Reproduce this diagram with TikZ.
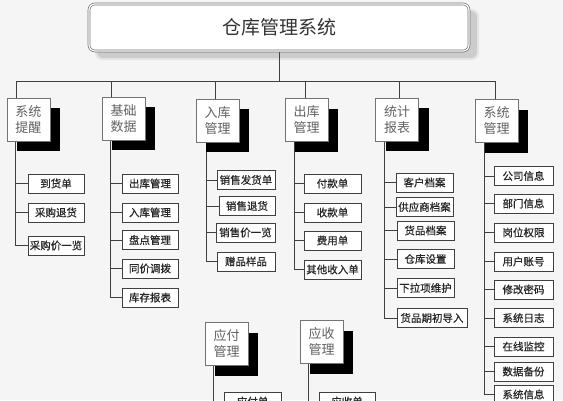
\documentclass[tikz,border=0pt]{standalone}
\usepackage{fontspec}
\newfontfamily\cjk{Noto Sans CJK SC}
\newfontfamily\cjkb[FakeBold=0.6]{Noto Sans CJK SC}
\usetikzlibrary{shadows}
\definecolor{bgc}{RGB}{245,245,245}
\pgfdeclarelayer{bg}
\pgfdeclarelayer{lines}
\pgfsetlayers{bg,lines,main}
\begin{document}
\begin{tikzpicture}[x=1pt,y=-1pt,
  topbox/.style={draw=black!55, line width=0.7pt, double=white, double distance=1.2pt,
    rounded corners=6pt, fill=white, minimum width=380pt, minimum height=47pt, inner sep=0pt,
    font=\cjk\fontsize{19}{22}\selectfont, text=black!80},
  l2/.style={draw=black!55, line width=0.8pt, fill=white, minimum width=43pt, minimum height=43pt,
    inner sep=0pt, font=\cjk\fontsize{13}{16}\selectfont, text=black!62, align=center,
    drop shadow={shadow xshift=10pt, shadow yshift=-10pt, fill=black, opacity=1}},
  item/.style={draw=black!75, line width=0.9pt, fill=white, minimum height=19pt, inner sep=0pt,
    font=\cjkb\fontsize{10.5}{12}\selectfont, text=black!85},
  conn/.style={draw=black!75, line width=0.8pt}]
\useasboundingbox (0,0) rectangle (563,400);
\begin{pgfonlayer}{bg}
  \fill[bgc] (0,0) rectangle (563,400);
  \fill[black!10, rounded corners=7pt] (95,9) rectangle (479,60);
  \fill[black!20, rounded corners=6pt] (97,11) rectangle (477,58);
\end{pgfonlayer}
\clip (0,0) rectangle (563,400);

% top
\node[topbox] (top) at (279,27.5) {仓库管理系统\hspace{48pt}};

% level 2
\node[l2] (s1) at (28.5,119.5) {系统\\提醒};
\node[l2] (s2) at (123.5,118.5) {基础\\数据};
\node[l2] (s3) at (217.5,120.5) {入库\\管理};
\node[l2] (s4) at (306.5,120) {出库\\管理};
\node[l2] (s5) at (397,119.5) {统计\\报表};
\node[l2] (s6) at (496.5,121) {系统\\管理};
\node[l2] (s7) at (226.5,344) {应付\\管理};
\node[l2] (s8) at (321.5,342) {应收\\管理};

% items
\node[item, minimum width=56pt] (a1) at (56,183.5) {到货单};
\node[item, minimum width=56pt] (a2) at (56,212.5) {采购退货};
\node[item, minimum width=56pt] (a3) at (56,245.5) {采购价一览};

\node[item, minimum width=56pt] (b1) at (150,183.5) {出库管理};
\node[item, minimum width=56pt] (b2) at (150,212.5) {入库管理};
\node[item, minimum width=56pt] (b3) at (150,240) {盘点管理};
\node[item, minimum width=56pt] (b4) at (150,268.5) {同价调拨};
\node[item, minimum width=56pt] (b5) at (150,297.5) {库存报表};

\node[item, minimum width=58pt] (c1) at (246,180) {销售发货单};
\node[item, minimum width=56pt] (c2) at (247,206) {销售退货};
\node[item, minimum width=59pt] (c3) at (245.5,232.5) {销售价一览};
\node[item, minimum width=58pt] (c4) at (246,261.5) {赠品样品};

\node[item, minimum width=57pt] (d1) at (332.5,183.5) {付款单};
\node[item, minimum width=57pt] (d2) at (332.5,212.5) {收款单};
\node[item, minimum width=57pt] (d3) at (332.5,240.5) {费用单};
\node[item, minimum width=57pt] (d4) at (332.5,269.5) {其他收入单};

\node[item, minimum width=57pt] (e1) at (424.5,182.5) {客户档案};
\node[item, minimum width=57pt] (e2) at (424.5,207) {供应商档案};
\node[item, minimum width=57pt] (e3) at (425.5,230.5) {货品档案};
\node[item, minimum width=57pt] (e4) at (425.5,259) {仓库设置};
\node[item, minimum width=57pt] (e5) at (425.5,288) {下拉项维护};
\node[item, minimum width=70pt] (e6) at (432,318) {货品期初导入};

\node[item, minimum width=59pt] (f1) at (523.5,176) {公司信息};
\node[item, minimum width=59pt] (f2) at (523.5,203.5) {部门信息};
\node[item, minimum width=59pt] (f3) at (523.5,232.5) {岗位权限};
\node[item, minimum width=59pt] (f4) at (523.5,261.5) {用户账号};
\node[item, minimum width=59pt] (f5) at (523.5,289.5) {修改密码};
\node[item, minimum width=59pt] (f6) at (523.5,318) {系统日志};
\node[item, minimum width=59pt] (f7) at (523.5,346.5) {在线监控};
\node[item, minimum width=59pt] (f8) at (523.5,371.5) {数据备份};
\node[item, minimum width=59pt] (f9) at (523.5,394.5) {系统信息};

\node[item, minimum width=57pt] (g1) at (252.5,401.5) {应付单};
\node[item, minimum width=56pt] (h1) at (347,401.5) {应收单};

% bus coordinates
\coordinate (busy) at (0,81);
\coordinate (d1x) at (16,81);
\coordinate (d2x) at (111,81);
\coordinate (d3x) at (215,81);
\coordinate (d4x) at (305,81);
\coordinate (d5x) at (399,81);
\coordinate (d6x) at (495,81);

\begin{pgfonlayer}{lines}
  \clip (0,0) rectangle (563,400);
  \draw[conn] (top.south) -- (top.south |- busy);
  \draw[conn] (d1x) -- (d6x);
  \foreach \d/\s in {d1x/s1,d2x/s2,d3x/s3,d4x/s4,d5x/s5,d6x/s6}
    \draw[conn] (\d) -- (\d |- \s.north);
  \foreach \i in {a1,a2,a3}
    \draw[conn] ([xshift=9pt]s1.south west) |- (\i.west);
  \foreach \i in {b1,b2,b3,b4,b5}
    \draw[conn] ([xshift=9pt]s2.south west) |- (\i.west);
  \foreach \i in {c1,c2,c3,c4}
    \draw[conn] ([xshift=11pt]s3.south west) |- (\i.west);
  \foreach \i in {d1,d2,d3,d4}
    \draw[conn] ([xshift=10pt]s4.south west) |- (\i.west);
  \foreach \i in {e1,e2,e3,e4,e5,e6}
    \draw[conn] ([xshift=9pt]s5.south west) |- (\i.west);
  \foreach \i in {f1,f2,f3,f4,f5,f6,f7,f8,f9}
    \draw[conn] ([xshift=10pt]s6.south west) |- (\i.west);
  \draw[conn] ([xshift=9pt]s7.south west) |- (g1.west);
  \draw[conn] ([xshift=9pt]s8.south west) |- (h1.west);
\end{pgfonlayer}
\end{tikzpicture}
\end{document}
